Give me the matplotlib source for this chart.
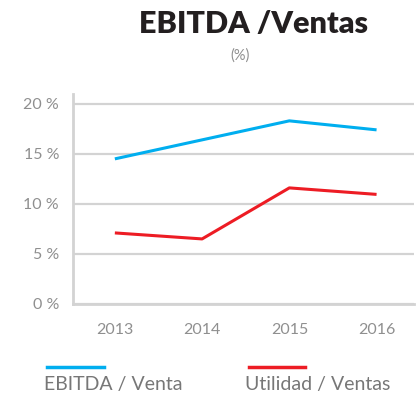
import matplotlib.pyplot as plt
from matplotlib.lines import Line2D

# data
years = ['2013', '2014', '2015', '2016']
ebitda_venta = [14.5, 16.4, 18.3, 17.4]
utilidad_ventas = [7.1, 6.5, 11.6, 10.95]
y_ticks = [0, 5, 10, 15, 20]
y_labels = ['0 %', '5 %', '10 %', '15 %', '20 %']

blue = '#00AEEF'
red = '#ED1C24'
grey_txt = '#8f8f8f'
grey_line = '#d3d3d3'

plt.rcParams['font.family'] = ['Lato', 'DejaVu Sans']

fig = plt.figure(figsize=(4.17, 4.01), dpi=100)
ax = fig.add_axes([0.175, 0.242, 0.818, 0.524])

x = range(len(years))
ax.plot(x, ebitda_venta, color=blue, lw=2.2, solid_capstyle='butt')
ax.plot(x, utilidad_ventas, color=red, lw=2.2, solid_capstyle='butt')

ax.set_xlim(-0.48, 3.43)
ax.set_ylim(0, 21)
ax.set_yticks(y_ticks)
ax.set_yticklabels(y_labels)
ax.set_xticks(list(x))
ax.set_xticklabels(years)
ax.yaxis.grid(True, color=grey_line, lw=1.6)
ax.set_axisbelow(True)
for s in ['top', 'right']:
    ax.spines[s].set_visible(False)
for s in ['left', 'bottom']:
    ax.spines[s].set_color(grey_line)
    ax.spines[s].set_linewidth(2)
ax.tick_params(length=0, colors=grey_txt, labelsize=11.5)
ax.tick_params(axis='y', pad=10)
ax.tick_params(axis='x', pad=14)

fig.text(0.607, 0.94, 'EBITDA /Ventas', ha='center', va='center',
         fontsize=22, fontweight='heavy', color='#231f20')
fig.text(0.576, 0.862, '(%)', ha='center', va='center', fontsize=10.5, color=grey_txt)

# legend drawn by hand: line above the label
fig.add_artist(Line2D([0.113, 0.249], [0.085, 0.085], color=blue, lw=2.5))
fig.add_artist(Line2D([0.597, 0.732], [0.085, 0.085], color=red, lw=2.5))
fig.text(0.105, 0.04, 'EBITDA / Venta', ha='left', va='center', fontsize=14,
         color='#777777')
fig.text(0.588, 0.04, 'Utilidad / Ventas', ha='left', va='center', fontsize=14,
         color='#777777')

fig.savefig('out.png', dpi=100)
